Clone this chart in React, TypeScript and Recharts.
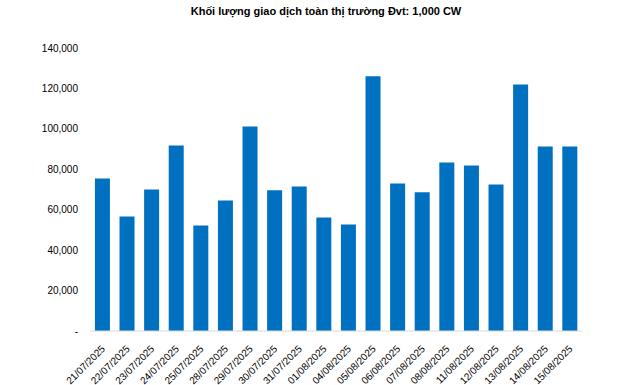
import { BarChart, Bar, XAxis, YAxis } from 'recharts';

const dates = [
  '21/07/2025', '22/07/2025', '23/07/2025', '24/07/2025', '25/07/2025',
  '28/07/2025', '29/07/2025', '30/07/2025', '31/07/2025', '01/08/2025',
  '04/08/2025', '05/08/2025', '06/08/2025', '07/08/2025', '08/08/2025',
  '11/08/2025', '12/08/2025', '13/08/2025', '14/08/2025', '15/08/2025',
];

const volumes = [
  75500, 56700, 70000, 91800, 52200,
  64600, 101200, 69600, 71500, 56200,
  52700, 126000, 73000, 68600, 83400,
  81900, 72500, 122000, 91300, 91300,
];

const yTicks = [0, 20000, 40000, 60000, 80000, 100000, 120000, 140000];

const data = dates.map((d, i) => ({ date: d, volume: volumes[i] }));

const FONT = 'Arial, "Liberation Sans", sans-serif';

const fmtY = (v: number) => (v === 0 ? '-' : v.toLocaleString('en-US'));

function DateTick(props: any) {
  const { x, y, payload } = props;
  return (
    <g transform={`translate(${x + 1},${y + 8})`}>
      <text
        transform="rotate(-45)"
        textAnchor="end"
        dominantBaseline="central"
        fontSize={10}
        fontFamily={FONT}
        fill="#000"
      >
        {payload.value}
      </text>
    </g>
  );
}

export default function App() {
  return (
    <div style={{ position: 'absolute', left: 0, top: 0, width: 640, height: 385, background: '#fff' }}>
      <div
        style={{
          position: 'absolute',
          top: 5,
          left: 0,
          width: 652,
          textAlign: 'center',
          fontFamily: FONT,
          fontSize: 11,
          fontWeight: 'bold',
          color: '#000',
        }}
      >
        Khối lượng giao dịch toàn thị trường Đvt: 1,000 CW
      </div>
      <BarChart
        width={640}
        height={385}
        data={data}
        margin={{ top: 48, right: 58, left: 0, bottom: 0 }}
        barCategoryGap="20%"
      >
        <XAxis
          dataKey="date"
          interval={0}
          height={54}
          tickLine={false}
          axisLine={{ stroke: '#d9d9d9' }}
          tick={<DateTick />}
        />
        <YAxis
          width={90}
          domain={[0, 140000]}
          ticks={yTicks}
          tickFormatter={fmtY}
          axisLine={false}
          tickLine={false}
          tickSize={0}
          tickMargin={12}
          tick={{ fontSize: 10, fontFamily: FONT, fill: '#000' }}
        />
        <Bar dataKey="volume" fill="#0070C0" isAnimationActive={false} />
      </BarChart>
    </div>
  );
}
